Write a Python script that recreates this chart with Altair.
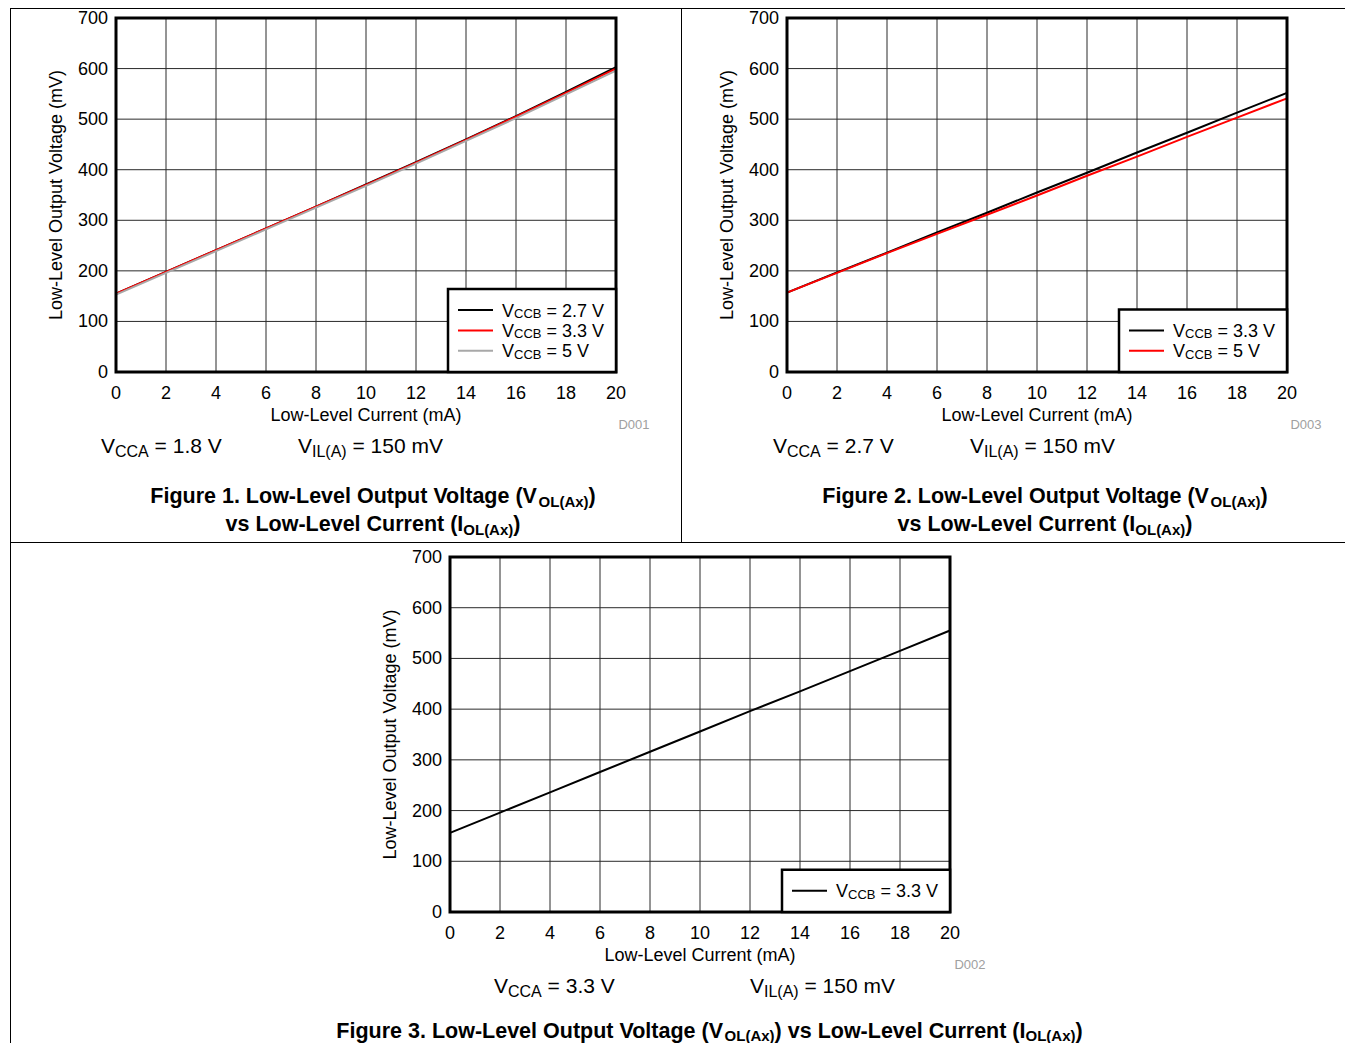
import altair as alt
import pandas as pd

FONT = "Liberation Sans"
W, H = 1337, 1035   # svg size: with the 8px body margin the page is exactly 1353 x 1051


def tx(x):  # page x -> svg x
    return x - 8


def ty(y):  # page y -> svg y
    return y - 8


# ---------------- data ----------------
current_mA = [0, 2, 4, 6, 8, 10, 12, 14, 16, 18, 20]

fig1_vccb_2v7 = [155, 198, 241, 284, 327, 371, 415, 460, 506, 554, 603]
fig1_vccb_3v3 = [155, 198, 241, 284, 327, 370, 414, 459, 505, 552, 600]
fig1_vccb_5v = [153, 196, 239, 282, 325, 368, 412, 457, 502, 549, 596]

fig2_vccb_3v3 = [157, 197, 236, 276, 315, 355, 394, 434, 473, 513, 552]
fig2_vccb_5v = [157, 196, 235, 273, 311, 349, 388, 426, 465, 503, 541]

fig3_vccb_3v3 = [156, 196, 236, 276, 316, 356, 396, 435, 475, 515, 555]

x_ticks = [0, 2, 4, 6, 8, 10, 12, 14, 16, 18, 20]
y_ticks = [0, 100, 200, 300, 400, 500, 600, 700]

fig1_labels = ["2.7 V", "3.3 V", "5 V"]
fig1_colors = ["#000000", "#ff0000", "#a8a8a8"]
fig2_labels = ["3.3 V", "5 V"]
fig2_colors = ["#000000", "#ff0000"]
fig3_labels = ["3.3 V"]
fig3_colors = ["#000000"]

x_title = "Low-Level Current (mA)"
y_title = "Low-Level Output Voltage (mV)"

# ---------------- text helpers (Arial / Liberation Sans advance widths) ----------------
REG_W = {' ': 278, '(': 333, ')': 333, '=': 584, '.': 278, '-': 333, 'V': 667, 'C': 722,
         'A': 667, 'B': 667, 'I': 278, 'L': 556, 'm': 833, 'x': 500, 'O': 778}
BOLD_W = {' ': 278, '(': 333, ')': 333, '.': 278, '-': 333, 'F': 611, 'i': 278, 'g': 611,
          'u': 611, 'r': 389, 'e': 556, 'L': 611, 'o': 611, 'w': 778, 'v': 556, 'l': 278,
          'O': 778, 't': 333, 'p': 611, 'V': 667, 'a': 556, 'x': 556, 'A': 722, 's': 556,
          'C': 722, 'n': 611, 'I': 278}

ONE = pd.DataFrame({"k": [0]})


def tw(s, size, bold):
    tbl = BOLD_W if bold else REG_W
    return sum(tbl.get(c, 556) for c in s) * size / 1000.0


def text_piece(t, x, y, size, bold=False, color="black", align="left", angle=0):
    return alt.Chart(ONE).mark_text(
        text=t, align=align, baseline="alphabetic", font=FONT, fontSize=size,
        fontWeight="bold" if bold else "normal", color=color, angle=angle
    ).encode(x=alt.value(tx(x)), y=alt.value(ty(y)))


def rich(parts, x, y, size, subsize, bold=False, center=False, drop=4):
    widths = [tw(t, subsize if sub else size, bold) for t, sub in parts]
    cx = x - sum(widths) / 2 if center else x
    out = []
    for (t, sub), wdt in zip(parts, widths):
        fs = subsize if sub else size
        stripped = t.lstrip(" ")
        lead = tw(t[:len(t) - len(stripped)], fs, bold)
        if stripped.strip():
            out.append(text_piece(stripped.rstrip(" "), cx + lead, y + (drop if sub else 0), fs, bold))
        cx += wdt
    return out


def hrule(x1, x2, y, color="black", width=1):
    return alt.Chart(ONE).mark_rule(color=color, strokeWidth=width).encode(
        x=alt.value(tx(x1)), x2=alt.value(tx(x2)), y=alt.value(ty(y)))


def vrule(x, y1, y2, color="black", width=1):
    return alt.Chart(ONE).mark_rule(color=color, strokeWidth=width).encode(
        x=alt.value(tx(x)), y=alt.value(y1), y2=alt.value(y2))


GRID = "#2a2a2a"


# ---------------- one figure panel (x0, y0, w, h in page pixels) ----------------
def panel(x0, y0, w, h, series, labels, colors):
    xs = alt.Scale(domain=[0, 20], range=[tx(x0), tx(x0 + w)], nice=False, zero=False)
    ys = alt.Scale(domain=[0, 700], range=[ty(y0 + h), ty(y0)], nice=False, zero=False)

    layers = []
    vg = pd.DataFrame({"g": x_ticks[1:-1], "lo": 0, "hi": 700})
    layers.append(alt.Chart(vg).mark_rule(color=GRID, strokeWidth=1).encode(
        x=alt.X("g:Q", scale=xs, axis=None),
        y=alt.Y("lo:Q", scale=ys, axis=None), y2="hi:Q"))
    hg = pd.DataFrame({"g": y_ticks[1:-1], "lo": 0, "hi": 20})
    layers.append(alt.Chart(hg).mark_rule(color=GRID, strokeWidth=1).encode(
        y=alt.Y("g:Q", scale=ys, axis=None),
        x=alt.X("lo:Q", scale=xs, axis=None), x2="hi:Q"))

    for vals, col in zip(series, colors):
        df = pd.DataFrame({"mA": current_mA, "mV": vals})
        layers.append(alt.Chart(df).mark_line(color=col, strokeWidth=2).encode(
            x=alt.X("mA:Q", scale=xs, axis=None),
            y=alt.Y("mV:Q", scale=ys, axis=None)))

    frame = pd.DataFrame({"xa": [0], "xb": [20], "ya": [0], "yb": [700]})
    layers.append(alt.Chart(frame).mark_rect(fillOpacity=0, stroke="black", strokeWidth=3).encode(
        x=alt.X("xa:Q", scale=xs, axis=None), x2="xb:Q",
        y=alt.Y("ya:Q", scale=ys, axis=None), y2="yb:Q"))

    # tick labels placed through the panel scales
    xt = pd.DataFrame({"t": x_ticks})
    layers.append(alt.Chart(xt).mark_text(
        align="center", baseline="middle", font=FONT, fontSize=18, color="black").encode(
        x=alt.X("t:Q", scale=xs, axis=None), y=alt.value(ty(y0 + h + 22)), text="t:Q"))
    yt = pd.DataFrame({"t": y_ticks})
    layers.append(alt.Chart(yt).mark_text(
        align="right", baseline="middle", font=FONT, fontSize=18, color="black", dy=1).encode(
        y=alt.Y("t:Q", scale=ys, axis=None), x=alt.value(tx(x0 - 8)), text="t:Q"))

    # legend box (bottom-right corner of the plot)
    n = len(labels)
    bottom = y0 + h
    entry_y = [bottom - 21.3 - 20.3 * (n - 1 - i) for i in range(n)]
    top = entry_y[0] - 21
    layers.append(alt.Chart(ONE).mark_rect(fill="white", stroke="black", strokeWidth=2.5).encode(
        x=alt.value(tx(x0 + 332)), x2=alt.value(tx(x0 + w)),
        y=alt.value(ty(top)), y2=alt.value(ty(bottom))))
    for ey, col in zip(entry_y, colors):
        layers.append(hrule(x0 + 342, x0 + 377, ey, color=col, width=2))

    texts = []
    for ey, lab in zip(entry_y, labels):
        texts += rich([("V", False), ("CCB", True), (" = " + lab, False)],
                      x0 + 386, ey + 6.5, 18, 13, drop=1.5)
    # axis titles
    texts.append(text_piece(x_title, x0 + w / 2, y0 + h + 48.5, 18, align="center"))
    texts.append(text_piece(y_title, x0 - 54.5, y0 + h / 2, 18, align="center", angle=270))
    return alt.layer(*layers), texts


p1, t1 = panel(116, 18, 500, 354, [fig1_vccb_2v7, fig1_vccb_3v3, fig1_vccb_5v], fig1_labels, fig1_colors)
p2, t2 = panel(787, 18, 500, 354, [fig2_vccb_3v3, fig2_vccb_5v], fig2_labels, fig2_colors)
p3, t3 = panel(450, 557, 500, 355, [fig3_vccb_3v3], fig3_labels, fig3_colors)

texts = t1 + t2 + t3


# conditions under each figure
def conditions(vcca, xa, xb, yb):
    out = rich([("V", False), ("CCA", True), (" = " + vcca, False)], xa, yb + 81, 21, 16)
    out += rich([("V", False), ("IL(A)", True), (" = 150 mV", False)], xb, yb + 81, 21, 16)
    return out


texts += conditions("1.8 V", 101, 298, 372)
texts += conditions("2.7 V", 773, 970, 372)
texts += conditions("3.3 V", 494, 750, 912)

# graph codes
texts.append(text_piece("D001", 634, 429, 13, color="#a0a0a0", align="center"))
texts.append(text_piece("D003", 1306, 429, 13, color="#a0a0a0", align="center"))
texts.append(text_piece("D002", 970, 969, 13, color="#a0a0a0", align="center"))

# captions
cap1 = [("Figure 1. Low-Level Output Voltage (V", False), ("OL(Ax)", True), (")", False)]
cap2 = [("Figure 2. Low-Level Output Voltage (V", False), ("OL(Ax)", True), (")", False)]
cap_vs = [("vs Low-Level Current (I", False), ("OL(Ax)", True), (")", False)]
cap3 = [("Figure 3. Low-Level Output Voltage (V", False), ("OL(Ax)", True),
        (") vs Low-Level Current (I", False), ("OL(Ax)", True), (")", False)]
texts += rich(cap1, 373, 503, 21.5, 15, bold=True, center=True)
texts += rich(cap_vs, 373, 531, 21.5, 15, bold=True, center=True)
texts += rich(cap2, 1045, 503, 21.5, 15, bold=True, center=True)
texts += rich(cap_vs, 1045, 531, 21.5, 15, bold=True, center=True)
texts += rich(cap3, 709.5, 1037.5, 21.5, 15, bold=True, center=True, drop=3)

# page borders separating the figures (top one as high as the page allows)
borders = [
    vrule(10.5, 0.5, H),
    alt.Chart(ONE).mark_rule(color="black", strokeWidth=1).encode(
        x=alt.value(tx(10)), x2=alt.value(W), y=alt.value(0.5)),
    vrule(681.5, 0.5, ty(542.5)),
    alt.Chart(ONE).mark_rule(color="black", strokeWidth=1).encode(
        x=alt.value(tx(10)), x2=alt.value(W), y=alt.value(ty(542.5))),
]

chart = alt.layer(p1, p2, p3, *borders, *texts).resolve_scale(
    x="independent", y="independent"
).properties(
    width=W, height=H, padding=0, autosize=alt.AutoSizeParams(type="none")
).configure_view(stroke=None)

chart.save("out.html", embed_options={"renderer": "svg", "actions": False})
